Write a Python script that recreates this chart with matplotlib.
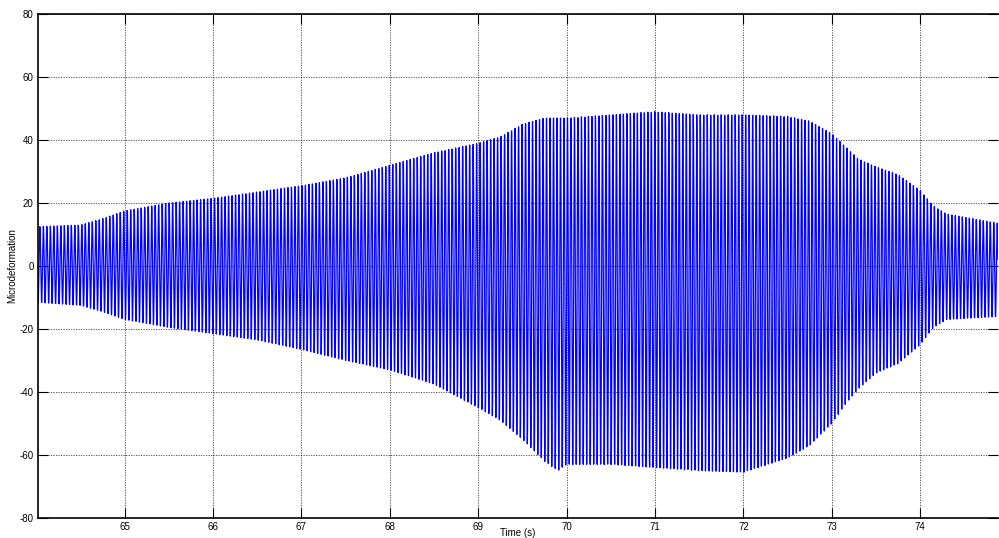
import numpy as np
import matplotlib
matplotlib.use("Agg")
import matplotlib.pyplot as plt

plt.rcParams['font.family'] = ['Liberation Sans', 'DejaVu Sans']
plt.rcParams['axes.unicode_minus'] = False

# envelope of the strain record (upper peaks / lower troughs), read every few tenths of a second
env_t = [64.0, 64.5, 64.75, 65.0, 65.5, 66.0, 66.5, 67.0, 67.5, 68.0, 68.5,
         69.0, 69.25, 69.5, 69.75, 69.9, 70.0, 70.5, 71.0, 71.5, 72.0, 72.5,
         72.75, 73.0, 73.15, 73.3, 73.5, 73.75, 74.0, 74.15, 74.3, 74.6, 74.9]
env_upper = [12.5, 13, 15, 17.5, 20, 21.5, 23.5, 25.5, 28, 32, 36,
             39, 41, 45, 47, 47, 47, 48, 49, 48, 48, 47.5,
             46, 42, 38, 34, 31.5, 29, 24, 19, 16.5, 15, 13.5]
env_lower = [-11.5, -12.5, -14.5, -17, -19.5, -21.5, -23.5, -26.5, -30, -33, -37.5,
             -45, -49, -55, -62, -65, -63, -63, -64, -65, -65.5, -61,
             -57, -50, -44, -39, -34, -31, -25, -19.5, -17, -16.5, -16]

freq = 25.3      # Hz, dominant vibration frequency
fs = 1000.0      # sampling rate of the gauge
t_start, t_end = 64.0, 74.9

x_ticks = [65, 66, 67, 68, 69, 70, 71, 72, 73, 74]
y_ticks = [-80, -60, -40, -20, 0, 20, 40, 60, 80]

t = np.arange(t_start, t_end, 1.0 / fs)
up = np.interp(t, env_t, env_upper)
lo = np.interp(t, env_t, env_lower)
mid = (up + lo) / 2
amp = (up - lo) / 2
strain = mid + amp * np.sin(2 * np.pi * freq * t)

fig = plt.figure(figsize=(9.99, 5.38), dpi=100)
ax = fig.add_axes([0.038, 0.0372, 0.961, 0.9368])

ax.plot(t, strain, color=(0, 0, 1), lw=0.9)

ax.set_xlim(64.02, 74.88)
ax.set_ylim(-80, 80)
ax.set_xticks(x_ticks)
ax.set_yticks(y_ticks)
ax.tick_params(direction='in', length=7, width=0.8, labelsize=7,
               top=True, right=True, pad=3)
ax.grid(True, color='k', linestyle=(0, (1.5, 1.5)), linewidth=0.6, alpha=0.75)

for s in ax.spines.values():
    s.set_linewidth(1.2)
ax.spines['right'].set_visible(False)

ax.set_xlabel('Time (s)', fontsize=7, va='bottom')
ax.xaxis.set_label_coords(0.5, -0.0395)
ax.set_ylabel('Microdeformation', fontsize=7)
ax.yaxis.set_label_coords(-0.022, 0.5)

fig.savefig('out.png', dpi=100)
